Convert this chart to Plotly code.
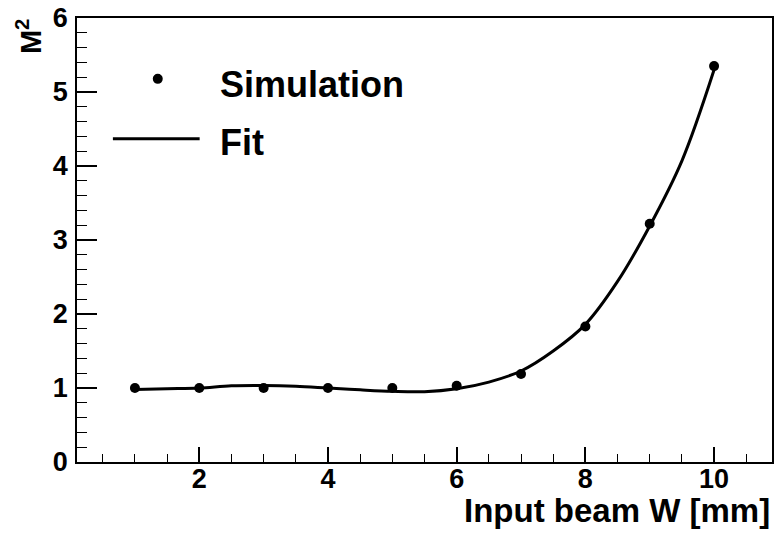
import plotly.graph_objects as go

# Simulation points
sim_x = [1, 2, 3, 4, 5, 6, 7, 8, 9, 10]
sim_y = [1.00, 1.00, 1.00, 1.00, 1.00, 1.03, 1.19, 1.83, 3.22, 5.35]

# Fit curve
fit_x = [1, 1.5, 2, 2.5, 3, 3.5, 4, 4.5, 5, 5.5, 6, 6.5, 7, 7.5, 8, 8.5, 9, 9.5, 10]
fit_y = [0.98, 0.99, 1.00, 1.03, 1.034, 1.024, 1.00, 0.975, 0.955, 0.95, 0.99,
         1.08, 1.23, 1.50, 1.86, 2.44, 3.19, 4.07, 5.30]

x_range = [0.1, 10.9]
y_range = [0, 6]
x_title = "Input beam W [mm]"
y_title = "M<sup>2</sup>"
legend_labels = ["Simulation", "Fit"]

FONT = "Liberation Sans, Arial, Helvetica, sans-serif"

fig = go.Figure()
fig.add_trace(go.Scatter(x=fit_x, y=fit_y, mode="lines", line=dict(color="black", width=3, shape="spline", smoothing=1.0),
                         name=legend_labels[1], showlegend=False, hoverinfo="skip"))
fig.add_trace(go.Scatter(x=sim_x, y=sim_y, mode="markers", marker=dict(color="black", size=10),
                         name=legend_labels[0], showlegend=False))

L, R, T, B = 77, 3, 17, 73
W, H = 777, 535
pw, ph = W - L - R, H - T - B

def px(xp):
    return (xp - L) / pw

def py(yp):
    return (H - B - yp) / ph

axis_common = dict(showgrid=False, zeroline=False, showline=True, linecolor="black", linewidth=1.5,
                   mirror=True, ticks="inside", tickcolor="black", tickwidth=1.5,
                   tickfont=dict(family=FONT, size=27, color="black", weight="bold"))

fig.update_xaxes(range=x_range, tick0=0, dtick=2, ticklen=15, ticklabelstandoff=-8,
                 minor=dict(dtick=0.5, tick0=0, ticklen=8, ticks="inside", tickcolor="black", tickwidth=1.2),
                 **axis_common)
fig.update_yaxes(range=y_range, tick0=0, dtick=1, ticklen=20, ticklabelstandoff=2,
                 minor=dict(dtick=0.2, tick0=0, ticklen=10, ticks="inside", tickcolor="black", tickwidth=1.2),
                 **axis_common)

# Manual legend
fig.add_shape(type="circle", xref="paper", yref="paper",
              x0=px(153), x1=px(163), y0=py(83), y1=py(73), fillcolor="black", line=dict(width=0))
fig.add_shape(type="line", xref="paper", yref="paper",
              x0=px(113), x1=px(200), y0=py(138), y1=py(138), line=dict(color="black", width=3))
fig.add_annotation(text=legend_labels[0], xref="paper", yref="paper", x=px(218), y=py(84),
                   xanchor="left", yanchor="middle", showarrow=False,
                   font=dict(family=FONT, size=36, color="black", weight="bold"))
fig.add_annotation(text=legend_labels[1], xref="paper", yref="paper", x=px(218), y=py(142),
                   xanchor="left", yanchor="middle", showarrow=False,
                   font=dict(family=FONT, size=36, color="black", weight="bold"))

# Axis titles
fig.add_annotation(text=x_title, xref="paper", yref="paper", x=px(774), y=py(511),
                   xanchor="right", yanchor="middle", showarrow=False,
                   font=dict(family=FONT, size=33, color="black", weight="bold"))
fig.add_annotation(text=y_title, xref="paper", yref="paper", x=px(29), y=py(36),
                   xanchor="center", yanchor="middle", showarrow=False, textangle=-90,
                   font=dict(family=FONT, size=29, color="black", weight="bold"))

fig.update_layout(width=W, height=H, margin=dict(l=L, r=R, t=T, b=B),
                  paper_bgcolor="white", plot_bgcolor="white", showlegend=False)

fig.write_html("out.html")
